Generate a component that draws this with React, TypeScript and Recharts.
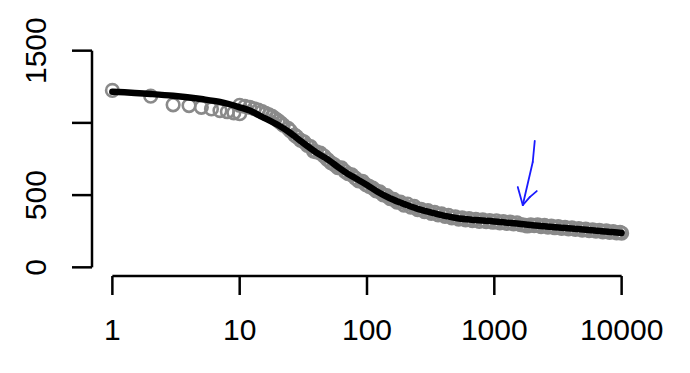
import { ComposedChart, Scatter, XAxis, YAxis, ReferenceLine } from 'recharts'

// gray points, sparse part (one per x at the start)
const sparseX = [1, 2, 3, 4, 5, 6, 7, 8, 9, 10]
const sparseY = [1225, 1185, 1125, 1120, 1108, 1097, 1085, 1077, 1070, 1064]

// gray points, dense band
const bandX = [
  10, 11, 12, 13, 14, 15, 16, 17, 18, 19, 20, 21, 22, 24, 25, 27, 28, 30, 32, 34, 36, 38, 40,
  43, 46, 49, 52, 55, 59, 63, 67, 71, 76, 81, 86, 92, 98, 104, 111, 118, 126, 134, 143, 152, 162, 172,
  183, 195, 208, 221, 235, 250, 266, 283, 301, 320, 340, 362, 385, 410, 436, 464, 494, 525, 559, 595,
  633, 673, 716, 762, 811, 863, 918, 977, 1039, 1106, 1177, 1252, 1332, 1417, 1508, 1605, 1708, 1817,
  1933, 2057, 2189, 2329, 2478, 2637, 2806, 2986, 3177, 3380, 3597, 3827, 4072, 4333, 4610, 4906,
  5220, 5554, 5910, 6288, 6691, 7119, 7575, 8060, 8577, 9126, 9710, 10000,
]
const bandY = [
  1122, 1115, 1108, 1098, 1088, 1078, 1066, 1055, 1045, 1030, 1015, 1000, 985, 962, 945, 915, 905, 880, 868, 845, 835, 805, 800,
  790, 770, 745, 725, 712, 690, 688, 665, 648, 640, 618, 598, 596, 572, 560, 548, 530, 522, 502, 496, 475, 470, 452,
  452, 430, 438, 416, 422, 400, 402, 386, 392, 374, 380, 363, 370, 353, 360, 343, 350, 334, 342, 328,
  337, 324, 332, 318, 328, 316, 324, 312, 322, 308, 317, 304, 314, 300, 308, 296, 292, 286,
  294, 288, 294, 282, 290, 278, 286, 274, 282, 270, 277, 266, 274, 262, 268, 258,
  265, 254, 260, 250, 256, 246, 252, 242, 248, 238, 242, 236,
]

// fitted curve
const fitX = [1, 2, 3, 5, 7, 10, 12, 15, 20, 25, 30, 40, 50, 60, 70, 80, 100, 120, 150, 200, 250, 300, 400, 500, 700, 1000, 1500, 2000, 3000, 5000, 7000, 10000]
const fitY = [1215, 1200, 1188, 1165, 1145, 1108, 1085, 1042, 985, 930, 875, 795, 742, 690, 650, 620, 570, 525, 480, 435, 405, 385, 358, 342, 328, 318, 303, 292, 278, 262, 250, 238]

// hand-drawn blue arrow (data coordinates)
const arrowShaftX = [2078, 2004, 1673]
const arrowShaftY = [875, 729, 431]
const arrowHeadX = [1528, 1673, 1898, 2154]
const arrowHeadY = [556, 431, 486, 528]

const xTicks = [1, 10, 100, 1000, 10000]
const yTicks = [0, 500, 1000, 1500]
const yLabels = ['0', '500', '', '1500']

const xDomain: [number, number] = [0.6918, 14454]
const yDomain: [number, number] = [-60, 1560]

const sparse = sparseX.map((x, i) => ({ x, y: sparseY[i] }))
const band = bandX.map((x, i) => ({ x, y: bandY[i] }))
const fit = fitX.map((x, i) => ({ x, y: fitY[i] }))

const FONT = '"Liberation Sans", Arial, sans-serif'
const GRAY = '#8a8a8a'

function Ring(props: any) {
  const { cx, cy } = props
  if (cx == null || cy == null) return null
  return <circle cx={cx} cy={cy} r={6.3} fill="none" stroke={GRAY} strokeWidth={2.6} />
}

const NoDot = () => null

function XTick(props: any) {
  const { x, y, payload } = props
  return (
    <text x={x} y={y + 45} textAnchor="middle" fontSize={30} fontFamily={FONT} fill="#000">
      {String(payload.value)}
    </text>
  )
}

function YTick(props: any) {
  const { x, y, payload } = props
  const idx = yTicks.indexOf(payload.value)
  const label = idx >= 0 ? yLabels[idx] : ''
  if (!label) return null
  const bx = x - 26
  return (
    <text x={bx} y={y} transform={`rotate(-90, ${bx}, ${y})`} textAnchor="middle" fontSize={30} fontFamily={FONT} fill="#000">
      {label}
    </text>
  )
}

function segs(xs: number[], ys: number[]) {
  const out: { x: number; y: number }[][] = []
  for (let i = 0; i < xs.length - 1; i++) {
    out.push([{ x: xs[i], y: ys[i] }, { x: xs[i + 1], y: ys[i + 1] }])
  }
  return out
}

export default function App() {
  const arrowSegs = [...segs(arrowShaftX, arrowShaftY), ...segs(arrowHeadX, arrowHeadY)]
  return (
    <div style={{ position: 'absolute', left: 0, top: 0, width: 690, height: 373, background: '#fff' }}>
      <ComposedChart width={690} height={373} margin={{ top: 42, right: 48, bottom: 37, left: 0 }}>
        <XAxis
          dataKey="x"
          type="number"
          scale="log"
          domain={xDomain}
          allowDataOverflow
          ticks={xTicks}
          axisLine={false}
          tickLine={{ stroke: '#000', strokeWidth: 2.5 }}
          tickSize={19}
          tickMargin={0}
          height={60}
          tick={<XTick />}
          interval={0}
        />
        <YAxis
          dataKey="y"
          type="number"
          domain={yDomain}
          allowDataOverflow
          ticks={yTicks}
          axisLine={false}
          tickLine={{ stroke: '#000', strokeWidth: 2.5 }}
          tickSize={20}
          tickMargin={0}
          width={92}
          tick={<YTick />}
          interval={0}
        />
        <ReferenceLine
          segment={[{ x: xTicks[0], y: yDomain[0] }, { x: xTicks[xTicks.length - 1], y: yDomain[0] }]}
          stroke="#000"
          strokeWidth={2.5}
          ifOverflow="visible"
        />
        <ReferenceLine
          segment={[{ x: xDomain[0], y: yTicks[0] }, { x: xDomain[0], y: yTicks[yTicks.length - 1] }]}
          stroke="#000"
          strokeWidth={2.5}
          ifOverflow="visible"
        />
        <Scatter data={band} shape={<Ring />} isAnimationActive={false} />
        <Scatter data={sparse} shape={<Ring />} isAnimationActive={false} />
        <Scatter
          data={fit}
          shape={<NoDot />}
          line={{ stroke: '#000', strokeWidth: 6.5, strokeLinecap: 'round', strokeLinejoin: 'round' }}
          lineJointType="monotoneX"
          isAnimationActive={false}
        />
        {arrowSegs.map((s, i) => (
          <ReferenceLine key={i} segment={s} stroke="#1a1aff" strokeWidth={1.8} strokeLinecap="round" ifOverflow="visible" />
        ))}
      </ComposedChart>
    </div>
  )
}
